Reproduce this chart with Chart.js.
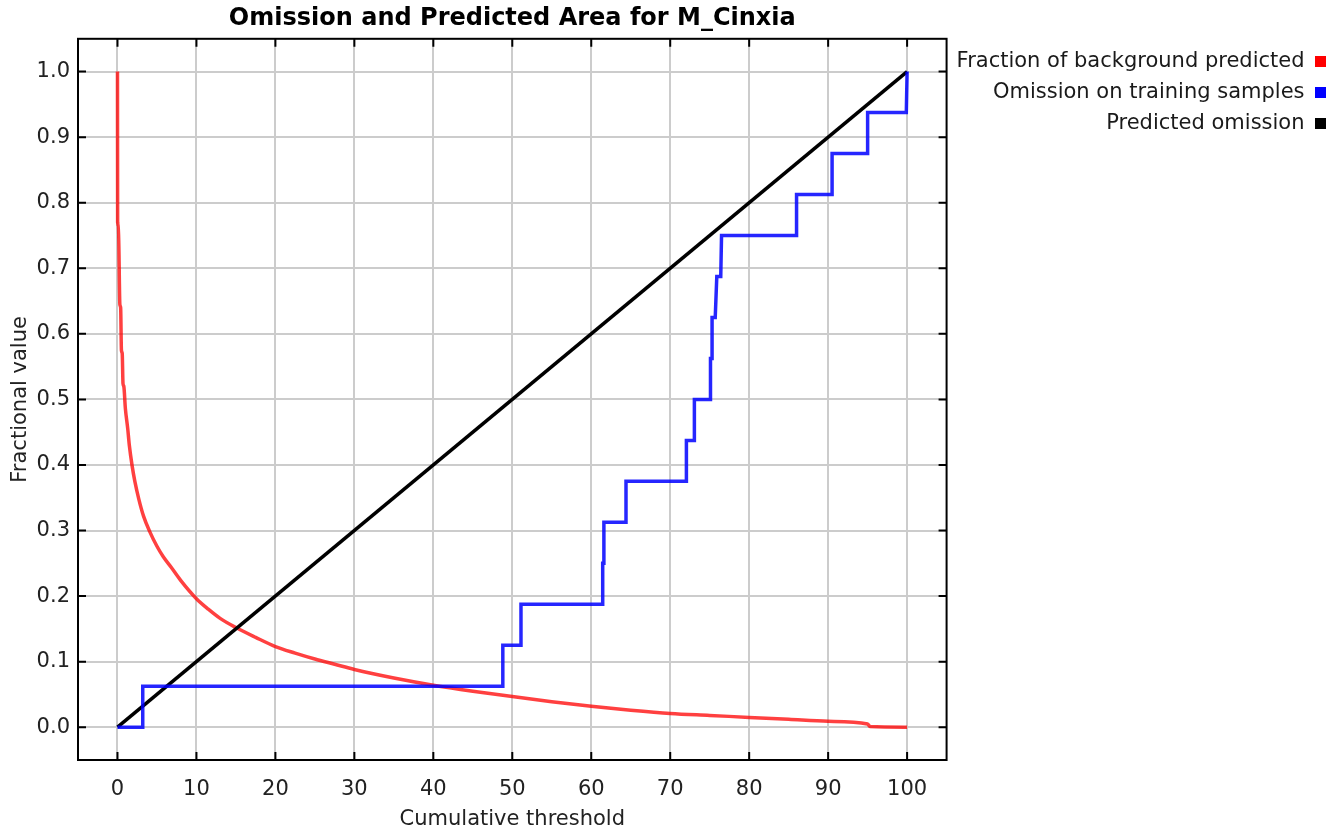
<!DOCTYPE html>
<html>
<head>
<meta charset="utf-8">
<script src="https://cdn.jsdelivr.net/npm/chart.js@4.4.1/dist/chart.umd.min.js"></script>
<style>
  body { margin: 0; background: #fff; }
  canvas { display: block; }
</style>
</head>
<body>
<canvas id="chart" width="1342" height="833"></canvas>
<script>
// valores
const xTicks = [0, 10, 20, 30, 40, 50, 60, 70, 80, 90, 100]
const yTicks = [0, 0.1, 0.2, 0.3, 0.4, 0.5, 0.6, 0.7, 0.8, 0.9, 1.0]

const redX = [0, 0.02, 0.12, 0.3, 0.4, 0.5, 0.6, 0.7, 0.8, 1.0, 1.3, 1.5, 1.85, 2.2, 2.7, 3.3, 4.1, 5.0, 5.8, 6.8, 8.0, 10, 11.5, 13, 15, 17.5, 20, 22.5, 25, 27.5, 30, 35, 40, 45, 50, 55, 60, 65, 70, 75, 80, 85, 90, 95, 95.3, 100]
const redY = [1.0, 0.77, 0.765, 0.645, 0.64, 0.575, 0.57, 0.524, 0.52, 0.486, 0.455, 0.43, 0.399, 0.375, 0.348, 0.322, 0.298, 0.276, 0.26, 0.244, 0.224, 0.196, 0.18, 0.166, 0.152, 0.137, 0.123, 0.113, 0.104, 0.096, 0.088, 0.075, 0.064, 0.055, 0.047, 0.039, 0.032, 0.026, 0.021, 0.018, 0.015, 0.012, 0.009, 0.005, 0.001, 0.0]

const blueX = [0, 3.2, 3.2, 48.8, 48.8, 51.1, 51.1, 61.45, 61.45, 61.6, 61.6, 64.4, 64.4, 72.05, 72.05, 73.06, 73.06, 75.1, 75.1, 75.3, 75.3, 75.7, 75.9, 76.4, 76.5, 86.0, 86.0, 90.5, 90.5, 95.0, 95.0, 99.9, 100]
const blueY = [0, 0, 0.0625, 0.0625, 0.125, 0.125, 0.1875, 0.1875, 0.25, 0.25, 0.3125, 0.3125, 0.375, 0.375, 0.4375, 0.4375, 0.5, 0.5, 0.5625, 0.5625, 0.625, 0.625, 0.6875, 0.6875, 0.75, 0.75, 0.8125, 0.8125, 0.875, 0.875, 0.9375, 0.9375, 1.0]

const blackX = [0, 100]
const blackY = [0, 1]

const seriesLabels = ['Fraction of background predicted', 'Omission on training samples', 'Predicted omission']
const legendColors = ['#ff0000', '#0000ff', '#000000']

const FONT = 'DejaVu Sans'

function toPoints(xs, ys) {
    return xs.map((x, i) => ({ x: x, y: ys[i] }))
}

// moldura e marcas internas nos quatro lados
const frameTicks = {
    id: 'frameTicks',
    afterDatasetsDraw(chart) {
        const { ctx, chartArea: a, scales } = chart
        ctx.save()
        ctx.strokeStyle = '#000'
        ctx.lineWidth = 2
        ctx.beginPath()
        xTicks.forEach(v => {
            const px = scales.x.getPixelForValue(v)
            ctx.moveTo(px, a.bottom)
            ctx.lineTo(px, a.bottom - 8)
            ctx.moveTo(px, a.top)
            ctx.lineTo(px, a.top + 8)
        })
        yTicks.forEach(v => {
            const py = scales.y.getPixelForValue(v)
            ctx.moveTo(a.left, py)
            ctx.lineTo(a.left + 8, py)
            ctx.moveTo(a.right, py)
            ctx.lineTo(a.right - 8, py)
        })
        ctx.stroke()
        ctx.strokeRect(a.left, a.top, a.right - a.left, a.bottom - a.top)
        ctx.restore()
    }
}

const ctx = document.getElementById('chart').getContext('2d')

new Chart(ctx, {
    type: 'scatter',
    data: {
        datasets: [
            {
                label: seriesLabels[0],
                data: toPoints(redX, redY),
                showLine: true,
                borderColor: 'rgba(255, 0, 0, 0.75)',
                borderWidth: 3.5,
                cubicInterpolationMode: 'monotone',
                pointRadius: 0,
                order: 3
            },
            {
                label: seriesLabels[1],
                data: toPoints(blueX, blueY),
                showLine: true,
                borderColor: 'rgba(0, 0, 255, 0.85)',
                borderWidth: 3.5,
                pointRadius: 0,
                order: 1
            },
            {
                label: seriesLabels[2],
                data: toPoints(blackX, blackY),
                showLine: true,
                borderColor: '#000000',
                borderWidth: 3.5,
                pointRadius: 0,
                order: 2
            }
        ]
    },
    options: {
        responsive: false,
        animation: false,
        layout: { padding: { left: 0, right: 6, top: 0, bottom: 0 } },
        plugins: {
            title: {
                display: true,
                text: 'Omission and Predicted Area for M_Cinxia',
                fullSize: false,
                color: '#000',
                font: { family: FONT, size: 24, weight: 'bold' },
                padding: { top: 4, bottom: 6 }
            },
            legend: {
                position: 'right',
                align: 'start',
                fullSize: false,
                maxWidth: 450,
                rtl: true,
                textDirection: 'ltr',
                // título vazio só para descer os itens 2px
                title: {
                    display: true,
                    text: '',
                    font: { family: FONT, size: 1 },
                    padding: { top: 1, bottom: 0 }
                },
                labels: {
                    boxWidth: 11,
                    boxHeight: 11,
                    padding: 10,
                    color: '#1a1a1a',
                    font: { family: FONT, size: 21 },
                    generateLabels: chart => chart.data.datasets.map((ds, i) => ({
                        text: ds.label,
                        fillStyle: legendColors[i],
                        strokeStyle: legendColors[i],
                        lineWidth: 0,
                        hidden: false,
                        datasetIndex: i,
                        fontColor: '#1a1a1a'
                    }))
                }
            },
            tooltip: { enabled: false }
        },
        scales: {
            x: {
                type: 'linear',
                min: -5,
                max: 105,
                afterBuildTicks: scale => { scale.ticks = xTicks.map(v => ({ value: v })) },
                afterFit: scale => { scale.height = 73 },
                grid: { color: '#cccccc', lineWidth: 2, drawTicks: false },
                border: { display: false },
                ticks: {
                    color: '#222',
                    padding: 17,
                    font: { family: FONT, size: 21 },
                    callback: v => String(v)
                },
                title: {
                    display: true,
                    text: 'Cumulative threshold',
                    color: '#222',
                    font: { family: FONT, size: 21 },
                    padding: { top: 0, bottom: 1 }
                }
            },
            y: {
                type: 'linear',
                min: -0.05,
                max: 1.05,
                afterBuildTicks: scale => { scale.ticks = yTicks.map(v => ({ value: v })) },
                afterFit: scale => { scale.width = 78 },
                grid: { color: '#cccccc', lineWidth: 2, drawTicks: false },
                border: { display: false },
                ticks: {
                    color: '#222',
                    padding: 8,
                    font: { family: FONT, size: 21 },
                    callback: v => Number(v).toFixed(1)
                },
                title: {
                    display: true,
                    text: 'Fractional value',
                    color: '#222',
                    font: { family: FONT, size: 21 },
                    padding: { top: 8, bottom: 0 }
                }
            }
        }
    },
    plugins: [frameTicks]
})
</script>
</body>
</html>
